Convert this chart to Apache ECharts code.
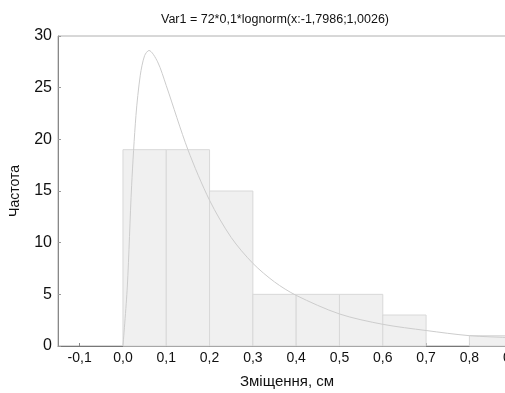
<!DOCTYPE html>
<html>
<head>
<meta charset="utf-8">
<script src="https://cdn.jsdelivr.net/npm/echarts@6/dist/echarts.min.js"></script>
<style>
  html, body { margin: 0; padding: 0; background: #fff; overflow: hidden; }
  #main { width: 556px; height: 393px; }
</style>
</head>
<body>
<div id="main"></div>
<script>
// histogram bins (cm) and counts
const binStart = [0.0, 0.1, 0.2, 0.3, 0.4, 0.5, 0.6, 0.7, 0.8];
const binEnd = [0.1, 0.2, 0.3, 0.4, 0.5, 0.6, 0.7, 0.8, 0.9];
const counts = [19, 19, 15, 5, 5, 5, 3, 0, 1];

// fitted lognormal curve
const curveX = [0.0, 0.01, 0.02, 0.03, 0.04, 0.05, 0.06, 0.08, 0.1, 0.15, 0.2, 0.25, 0.3, 0.35, 0.4, 0.5, 0.6, 0.7, 0.8, 0.9, 1.0];
const curveY = [0, 5.7, 15.5, 22.3, 26.2, 28.1, 28.6, 27.5, 25.2, 19.0, 14.1, 10.5, 8.0, 6.2, 4.9, 3.1, 2.1, 1.5, 1.0, 0.8, 0.6];

const xTicks = [-0.1, 0.0, 0.1, 0.2, 0.3, 0.4, 0.5, 0.6, 0.7, 0.8, 0.9];

const titleText = "Var1 = 72*0,1*lognorm(x:-1,7986;1,0026)";
const xName = "Зміщення, см";
const yName = "Частота";

// the plot runs past the right edge of the window, so the chart is wider than the page
const chart = echarts.init(document.getElementById("main"));

const bins = binStart.map((s, i) => [s, binEnd[i], counts[i]]);
const curve = curveX.map((x, i) => [x, curveY[i]]);

const font = "Arial, 'Liberation Sans', sans-serif";

const option = {
  backgroundColor: "#ffffff",
  animation: false,
  title: {
    text: titleText,
    left: 270,
    top: 8,
    textAlign: "center",
    textStyle: { fontSize: 12.5, fontWeight: "normal", color: "#111", fontFamily: font }
  },
  graphic: [
    {
      type: "text",
      left: 240,
      top: 374,
      style: { text: xName, fontSize: 15, fill: "#111", fontFamily: font }
    }
  ],
  grid: { left: 58, top: 36, right: 0, bottom: 47, show: true, borderColor: "#b0b0b0", borderWidth: 1 },
  xAxis: {
    type: "value",
    min: -0.15,
    max: 1.0,
    splitLine: { show: false },
    axisLine: { show: true, onZero: false, lineStyle: { color: "#777", width: 1 } },
    axisTick: { show: true, inside: true, length: 3, customValues: xTicks, lineStyle: { color: "#888" } },
    axisLabel: {
      customValues: xTicks,
      color: "#111",
      fontSize: 14,
      fontFamily: font,
      margin: 5,
      formatter: v => v.toFixed(1).replace(".", ",")
    }
  },
  yAxis: {
    type: "value",
    min: 0,
    max: 30,
    interval: 5,
    name: yName,
    nameLocation: "middle",
    nameGap: 36,
    nameTextStyle: { fontSize: 14, color: "#111", fontFamily: font },
    splitLine: { show: false },
    axisLine: { show: true, onZero: false, lineStyle: { color: "#888", width: 1 } },
    axisTick: { show: true, inside: true, length: 3, lineStyle: { color: "#999" } },
    axisLabel: { color: "#111", fontSize: 16, fontFamily: font, margin: 6 }
  },
  series: [
    {
      type: "custom",
      data: bins,
      encode: { x: [0, 1], y: 2 },
      renderItem: (params, api) => {
        const h = api.value(2);
        if (!h) return null;
        const p0 = api.coord([api.value(0), h]);
        const p1 = api.coord([api.value(1), 0]);
        return {
          type: "rect",
          shape: { x: p0[0], y: p0[1], width: p1[0] - p0[0], height: p1[1] - p0[1] },
          style: { fill: "#f0f0f0", stroke: "#d8d8d8", lineWidth: 1 }
        };
      },
      z: 2
    },
    {
      type: "line",
      data: curve,
      smooth: 0.3,
      showSymbol: false,
      lineStyle: { color: "#cccccc", width: 1 },
      z: 3
    }
  ]
};

chart.setOption(option);
</script>
</body>
</html>
